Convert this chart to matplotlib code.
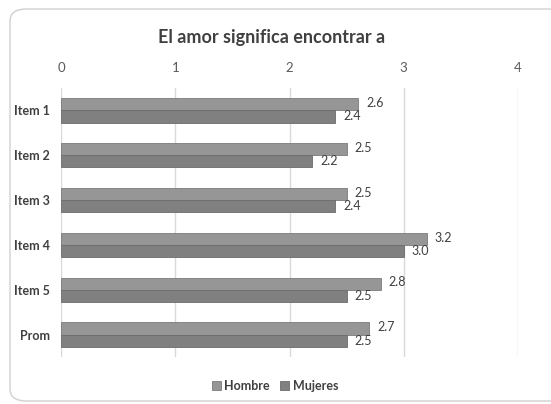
import matplotlib.pyplot as plt
import numpy as np
from matplotlib.patches import FancyBboxPatch

categories = ['Item 1', 'Item 2', 'Item 3', 'Item 4', 'Item 5', 'Prom']
hombre = [2.6, 2.5, 2.5, 3.2, 2.8, 2.7]
mujeres = [2.4, 2.2, 2.4, 3.0, 2.5, 2.5]

plt.rcParams['font.family'] = ['Lato', 'DejaVu Sans']

fig = plt.figure(figsize=(5.51, 4.04), dpi=100)
fig.patch.set_facecolor('white')

# marco redondeado del grafico
frame = FancyBboxPatch((10 / 551, 3 / 404), 560 / 551, 392 / 404,
                       boxstyle='round,pad=0,rounding_size=0.03',
                       transform=fig.transFigure, fill=False,
                       edgecolor='#d0d0d0', linewidth=1.0)
fig.patches.append(frame)

ax = fig.add_axes([61 / 551, 1 - 357 / 404, (518 - 61) / 551, (357 - 88) / 404])

y = np.arange(len(categories))
h = 0.27
b1 = ax.barh(y - h / 2, hombre, height=h, color='#969696', edgecolor='#7a7a7a', linewidth=0.6,
             label='Hombre')
b2 = ax.barh(y + h / 2, mujeres, height=h, color='#808080', edgecolor='#6c6c6c', linewidth=0.6,
             label='Mujeres')

for rect, v in zip(b1, hombre):
    ax.text(v + 0.07, rect.get_y() + rect.get_height() / 2 - 0.03, f'{v:.1f}',
            va='center', ha='left', fontsize=9, color='#404040')
for rect, v in zip(b2, mujeres):
    ax.text(v + 0.07, rect.get_y() + rect.get_height() / 2, f'{v:.1f}',
            va='center', ha='left', fontsize=9, color='#404040')

ax.set_xlim(0, 4)
ax.set_ylim(len(categories) - 0.5, -0.5)
ax.set_xticks([0, 1, 2, 3, 4])
ax.xaxis.tick_top()
ax.tick_params(axis='x', length=0, pad=10, labelsize=9.5, labelcolor='#595959')
ax.set_yticks(y)
ax.set_yticklabels(categories, fontweight='bold', fontsize=9, color='#404040')
ax.tick_params(axis='y', length=0, pad=8)
ax.grid(axis='x', color='#d9d9d9', linewidth=1.0)
ax.set_axisbelow(True)
for s in ax.spines.values():
    s.set_visible(False)

fig.text(272 / 551, 1 - 37 / 404, 'El amor significa encontrar a', ha='center', va='center',
         fontsize=13, fontweight='bold', color='#404040')

fig.legend(handles=[b1, b2], loc='center', bbox_to_anchor=(275 / 551, 1 - 386 / 404),
           ncol=2, frameon=False, handlelength=0.7, handleheight=0.7,
           handletextpad=0.3, columnspacing=0.8, labelcolor='#404040',
           prop={'family': ['Lato', 'DejaVu Sans'], 'weight': 'bold', 'size': 9})

fig.savefig('out.png', dpi=100)
